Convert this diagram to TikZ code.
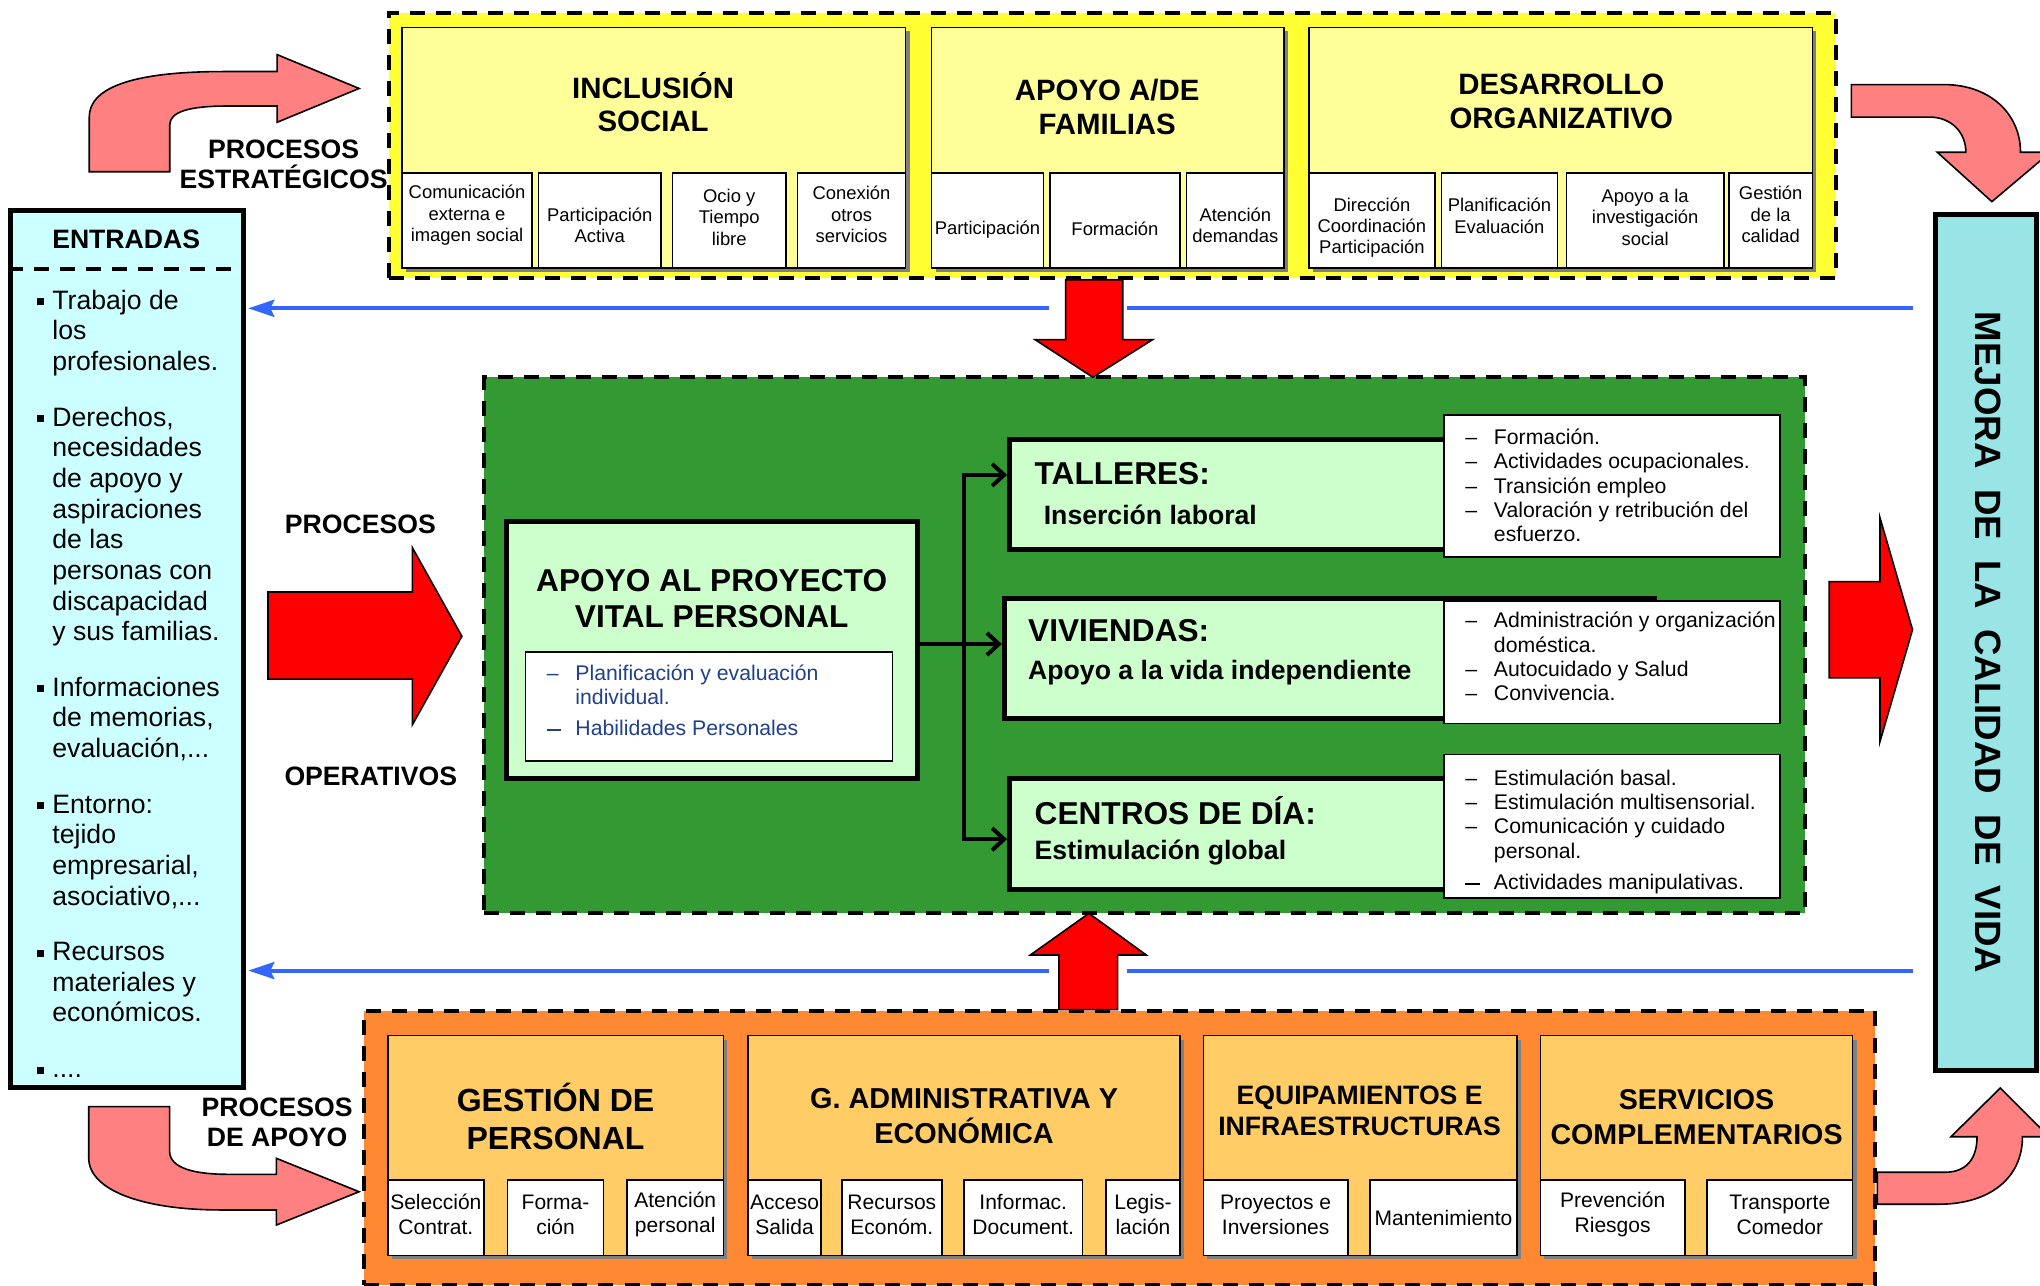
\documentclass[tikz,border=0pt]{standalone}
\usepackage{fontspec}
\setmainfont{Liberation Sans}
\usetikzlibrary{fit,shadows,arrows.meta}

\newcommand{\fTop}{\fontsize{14.7}{16.8}\selectfont\bfseries}
\newcommand{\fSub}{\fontsize{9.2}{10.7}\selectfont}
\newcommand{\fBot}{\fontsize{10.5}{12.4}\selectfont}
\newcommand{\fLab}{\fontsize{13.3}{15}\selectfont\bfseries}
\newcommand{\fIn}{\fontsize{13.3}{15.3}\selectfont}
\newcommand{\fList}{\fontsize{10.6}{12.2}\selectfont}
\newcommand{\fHead}{\fontsize{15.8}{18.2}\selectfont\bfseries}
\newcommand{\fMid}{\fontsize{13.3}{15}\selectfont\bfseries}
\newcommand{\bul}{\makebox[7.8pt][l]{\rule[2pt]{3.5pt}{3.5pt}}}
\newcommand{\dsh}{\makebox[14.3pt][l]{–}}
\newcommand{\lsh}{\makebox[14.3pt][l]{\rule[2.6pt]{7.2pt}{1pt}}}

\begin{document}
\begin{tikzpicture}[x=0.65pt,y=0.65pt,yscale=-1,xscale=1,
    every node/.style={inner sep=0pt},
    dashframe/.style={draw, line width=2pt, dash pattern=on 7.5pt off 5.5pt},
    groupbox/.style={draw, line width=0.8pt, general shadow={fill={rgb, 255:red, 128; green, 128; blue, 128}, shadow xshift=2pt, shadow yshift=-2pt}},
    stratgroup/.style={groupbox, fill={rgb, 255:red, 255; green, 255; blue, 153}},
    suppgroup/.style={groupbox, fill={rgb, 255:red, 255; green, 204; blue, 102}},
    leaf/.style={draw, line width=0.8pt, fill=white},
    subtext/.style={font=\fSub, align=center},
    bottext/.style={font=\fBot, align=center},
    opbox/.style={draw, line width=2.5pt, fill={rgb, 255:red, 204; green, 255; blue, 204}},
    blockarrow/.style={draw, line width=0.8pt, fill={rgb, 255:red, 255; green, 0; blue, 0}},
    bendarrow/.style={draw, line width=0.8pt, fill={rgb, 255:red, 255; green, 128; blue, 128}},
    feedback/.style={draw={rgb, 255:red, 51; green, 102; blue, 255}, line width=2pt, >={Stealth[length=13pt,width=8.5pt,inset=2pt]}},
    branch/.style={line width=2pt, >={Straight Barb[length=6pt,width=11pt]}},
  ]
  %set diagram size: 1568 x 988
  \useasboundingbox (0,0) rectangle (1568,988);

  %Shape: Curved arrows
  \draw[bendarrow] (68.6,132) -- (68.6,90) .. controls (68.6,68) and (100,55) .. (172,55) -- (213,55) -- (213,42) -- (276,68) -- (213,94) -- (213,81.5) -- (175,81.5) .. controls (145,81.5) and (130.5,86) .. (130.5,96) -- (130.5,132) -- cycle;
  \draw[bendarrow] (1423,65) -- (1494,65) .. controls (1530,65) and (1553,88) .. (1553,117) -- (1576,117) -- (1531,155) -- (1489,117) -- (1511,117) .. controls (1511,102) and (1500,90) .. (1483,90) -- (1423,90) -- cycle;
  \draw[bendarrow] (68.2,850.6) -- (68.2,890) .. controls (68.2,915) and (110,930) .. (170,930) -- (212.4,930) -- (212.4,941.6) -- (276,916) -- (212.4,890.3) -- (212.4,902.6) -- (175,902.6) .. controls (150,902.6) and (130.4,898) .. (130.4,885) -- (130.4,850.6) -- cycle;
  \draw[bendarrow] (1443,901) -- (1495,901) .. controls (1512,901) and (1519.6,890) .. (1519.6,873.7) -- (1499.6,873.7) -- (1537.4,836.3) -- (1575,873.7) -- (1554.5,873.7) .. controls (1554.5,905) and (1530,925.6) .. (1490,925.6) -- (1443,925.6) -- cycle;

  %Shape: Process containers
  \node[dashframe, fill={rgb, 255:red, 255; green, 255; blue, 51}, fit={(299,10) (1411,214)}] (strat) {};
  \node[dashframe, fill={rgb, 255:red, 51; green, 153; blue, 51}, fit={(372,290) (1387,702)}] (oper) {};
  \node[dashframe, fill={rgb, 255:red, 255; green, 136; blue, 51}, fit={(280,777) (1441,988)}] (supp) {};

  %Shape: Strategic groups
  \node[stratgroup, fit={(309,21) (696,206)}] (incl) {};
  \node[stratgroup, fit={(716,21) (987,206)}] (fam) {};
  \node[stratgroup, fit={(1006,21) (1393,206)}] (org) {};
  \node[font=\fTop, align=center] (inclT) at (502,78.5) {INCLUSIÓN\\SOCIAL};
  \node[font=\fTop, align=center] (famT) at (851,82) {APOYO A/DE\\FAMILIAS};
  \node[font=\fTop, align=center] (orgT) at (1200,78) {DESARROLLO\\ORGANIZATIVO};
  \node[leaf, fit={(309,133) (409,206)}] (inclA) {};
  \node[leaf, fit={(414,133) (508,206)}] (inclB) {};
  \node[leaf, fit={(517,133) (604,206)}] (inclC) {};
  \node[leaf, fit={(613,133) (696,206)}] (inclD) {};
  \node[leaf, fit={(716,133) (802,206)}] (famA) {};
  \node[leaf, fit={(807,133) (907,206)}] (famB) {};
  \node[leaf, fit={(912,133) (987,206)}] (famC) {};
  \node[leaf, fit={(1006,133) (1103,206)}] (orgA) {};
  \node[leaf, fit={(1108,133) (1197,206)}] (orgB) {};
  \node[leaf, fit={(1204,133) (1325,206)}] (orgC) {};
  \node[leaf, fit={(1329,133) (1393,206)}] (orgD) {};
  \node[subtext] (inclAt) at (359,165.5) {Comunicación\\externa e\\imagen social};
  \node[subtext] (inclBt) at (461,173) {Participación\\Activa};
  \node[subtext] (inclCt) at (560.5,167) {Ocio y\\Tiempo\\libre};
  \node[subtext] (inclDt) at (654.5,165) {Conexión\\otros\\servicios};
  \node[subtext] (famAt) at (759,176.5) {Participación};
  \node[subtext] (famBt) at (857,176) {Formación};
  \node[subtext] (famCt) at (949.5,173) {Atención\\demandas};
  \node[subtext] (orgAt) at (1054.5,175) {Dirección\\Coordinación\\Participación};
  \node[subtext] (orgBt) at (1152.5,166) {Planificación\\Evaluación};
  \node[subtext] (orgCt) at (1264.5,167) {Apoyo a la\\investigación\\social};
  \node[subtext] (orgDt) at (1361,165) {Gestión\\de la\\calidad};

  %Shape: Support groups
  \node[suppgroup, fit={(298,796) (556,965)}] (pers) {};
  \node[suppgroup, fit={(575,796) (907,965)}] (adm) {};
  \node[suppgroup, fit={(925,796) (1166,965)}] (equ) {};
  \node[suppgroup, fit={(1184,796) (1424,965)}] (serv) {};
  \node[font=\fontsize{16}{18.9}\selectfont\bfseries, align=center] (persT) at (427,858) {GESTIÓN DE\\PERSONAL};
  \node[font=\fontsize{14.4}{17.5}\selectfont\bfseries, align=center] (admT) at (741,858) {G. ADMINISTRATIVA Y\\ECONÓMICA};
  \node[font=\fontsize{13.3}{15.6}\selectfont\bfseries, align=center] (equT) at (1045,854) {EQUIPAMIENTOS E\\INFRAESTRUCTURAS};
  \node[font=\fontsize{14.3}{17.5}\selectfont\bfseries, align=center] (servT) at (1304,859) {SERVICIOS\\COMPLEMENTARIOS};
  \node[leaf, fit={(298,907) (372,965)}] (persA) {};
  \node[leaf, fit={(390,907) (464,965)}] (persB) {};
  \node[leaf, fit={(482,907) (556,965)}] (persC) {};
  \node[leaf, fit={(575,907) (631,965)}] (admA) {};
  \node[leaf, fit={(647,907) (724,965)}] (admB) {};
  \node[leaf, fit={(741,907) (832,965)}] (admC) {};
  \node[leaf, fit={(850,907) (907,965)}] (admD) {};
  \node[leaf, fit={(925,907) (1036,965)}] (equA) {};
  \node[leaf, fit={(1053,907) (1166,965)}] (equB) {};
  \node[leaf, fit={(1184,907) (1295,965)}] (servA) {};
  \node[leaf, fit={(1312,907) (1424,965)}] (servB) {};
  \node[bottext] (persAt) at (335,933.5) {Selección\\Contrat.};
  \node[bottext] (persBt) at (427,933.5) {Forma-\\ción};
  \node[bottext] (persCt) at (519,933.5) {Atención\\personal};
  \node[bottext] (admAt) at (603,933.5) {Acceso\\Salida};
  \node[bottext] (admBt) at (685.5,933.5) {Recursos\\Económ.};
  \node[bottext] (admCt) at (786.5,933.5) {Informac.\\Document.};
  \node[bottext] (admDt) at (878.5,933.5) {Legis-\\lación};
  \node[bottext] (equAt) at (980.5,933.5) {Proyectos e\\Inversiones};
  \node[bottext] (equBt) at (1109.5,936.5) {Mantenimiento};
  \node[bottext] (servAt) at (1239.5,933.5) {Prevención\\Riesgos};
  \node[bottext] (servBt) at (1368,933.5) {Transporte\\Comedor};

  %Shape: Operative boxes
  \node[opbox, fit={(389,401) (705,598)}] (apoyo) {};
  \node[font=\fHead, align=center] (apoyoT) at (547,460) {APOYO AL PROYECTO\\VITAL PERSONAL};
  \node[leaf, fit={(404,501) (686,585)}] (apoyoN) {};
  \node[anchor=north west, font=\fList, text={rgb, 255:red, 31; green, 64; blue, 140}] (apoyoL) at (420,509.5) {\begin{tabular}{@{}l@{}l@{}}\dsh & Planificación y evaluación\\ & individual.\\[3.3pt] \lsh & Habilidades Personales\end{tabular}};

  \node[opbox, fit={(776,338) (1115,422)}] (talleres) {};
  \node[opbox, fit={(772,460) (1272,552)}] (viviendas) {};
  \node[opbox, fit={(776,598) (1115,684)}] (centros) {};
  \node[anchor=west, font=\fHead] (tallT) at (795,364) {TALLERES:};
  \node[anchor=west, font=\fMid] (tallS) at (802,396) {Inserción laboral};
  \node[anchor=west, font=\fHead] (vivT) at (790,485) {VIVIENDAS:};
  \node[anchor=west, font=\fMid] (vivS) at (790,517) {Apoyo a la vida independiente};
  \node[anchor=west, font=\fHead] (centT) at (795,623) {CENTROS DE DÍA:};
  \node[anchor=west, font=\fMid] (centS) at (795,655) {Estimulación global};

  %Shape: Notes
  \node[leaf, fit={(1110,319) (1368,428)}] (tallN) {};
  \node[leaf, fit={(1110,462) (1368,556)}] (vivN) {};
  \node[leaf, fit={(1110,580) (1368,690)}] (centN) {};
  \node[anchor=north west, font=\fList] (tallL) at (1126,328) {\begin{tabular}{@{}l@{}l@{}}\dsh & Formación.\\ \dsh & Actividades ocupacionales.\\ \dsh & Transición empleo\\ \dsh & Valoración y retribución del\\ & esfuerzo.\end{tabular}};
  \node[anchor=north west, font=\fList] (vivL) at (1126,469) {\begin{tabular}{@{}l@{}l@{}}\dsh & Administración y organización\\ & doméstica.\\ \dsh & Autocuidado y Salud\\ \dsh & Convivencia.\end{tabular}};
  \node[anchor=north west, font=\fList] (centL) at (1126,590) {\begin{tabular}{@{}l@{}l@{}}\dsh & Estimulación basal.\\ \dsh & Estimulación multisensorial.\\ \dsh & Comunicación y cuidado\\ & personal.\\[3.5pt] \lsh & Actividades manipulativas.\end{tabular}};

  % Branches
  \coordinate (split) at (741,495);
  \coordinate (tIn) at ([yshift=-9.75pt]talleres.west);
  \coordinate (vIn) at ([yshift=-7.15pt]viviendas.west);
  \coordinate (cIn) at ([yshift=2.6pt]centros.west);
  \draw[branch, <->] (tIn) -- (tIn -| split) -- (cIn -| split) -- (cIn);
  \draw[branch, ->] (apoyo.east |- vIn) -- (vIn);

  %Shape: Inputs
  \node[draw, line width=2.5pt, fill={rgb, 255:red, 204; green, 255; blue, 255}, fit={(8,162) (187,836)}] (entradas) {};
  \node[font=\fLab] (entradasT) at (97,184) {ENTRADAS};
  \draw[dashframe] (entradas.west |- 0,207) -- (entradas.east |- 0,207);
  \node[anchor=north west, font=\fIn] (entradasL) at (28,221) {\begin{tabular}{@{}l@{}l@{}}
    \bul & Trabajo de\\ & los\\ & profesionales.\\[12.5pt]
    \bul & Derechos,\\ & necesidades\\ & de apoyo y\\ & aspiraciones\\ & de las\\ & personas con\\ & discapacidad\\ & y sus familias.\\[12.5pt]
    \bul & Informaciones\\ & de memorias,\\ & evaluación,...\\[12.5pt]
    \bul & Entorno:\\ & tejido\\ & empresarial,\\ & asociativo,...\\[12.5pt]
    \bul & Recursos\\ & materiales y\\ & económicos.\\[12.5pt]
    \bul & ....
  \end{tabular}};

  %Shape: Output
  \node[draw, line width=2.5pt, fill={rgb, 255:red, 153; green, 229; blue, 229}, fit={(1488,165) (1565,823)}] (mejora) {};
  \node[rotate=-90, font=\fontsize{18.3}{20}\selectfont\bfseries] (mejoraT) at (1528,494) {MEJORA~~DE~~LA~~CALIDAD~~DE~~VIDA};

  % Feedback lines
  \coordinate (fbTop) at (1470,237);
  \coordinate (gapTopR) at (866,237);
  \coordinate (gapTopL) at (806,237);
  \coordinate (fbBot) at (1470,746);
  \coordinate (gapBotR) at (866,746);
  \coordinate (gapBotL) at (806,746);
  \draw[feedback] (fbTop) -- (gapTopR);
  \draw[feedback, ->, shorten >=1.25pt] (gapTopL) -- (entradas.east |- gapTopL);
  \draw[feedback] (fbBot) -- (gapBotR);
  \draw[feedback, ->, shorten >=1.25pt] (gapBotL) -- (entradas.east |- gapBotL);

  %Shape: Block arrows
  \draw[blockarrow] (819,215) -- (863,215) -- (863,261) -- (886,261) -- (840,290) -- (795.5,261) -- (819,261) -- cycle;
  \draw[blockarrow] (814,776) -- (814,734) -- (792,734) -- (837,702) -- (881,734) -- (859,734) -- (859,776) -- cycle;
  \draw[blockarrow] (206,455) -- (317,455) -- (317,421) -- (355,489) -- (317,557) -- (317,522) -- (206,522) -- cycle;
  \draw[blockarrow] (1406,447) -- (1445,447) -- (1445,398) -- (1470,484) -- (1445,570) -- (1445,521) -- (1406,521) -- cycle;

  % Text Node
  \node[font=\fLab, align=center] (estrT) at (218,126) {PROCESOS\\ESTRATÉGICOS};
  \node[font=\fLab, align=center] (apoyoProcT) at (213,863) {PROCESOS\\DE APOYO};
  \node[font=\fLab] (procT) at (277,403) {PROCESOS};
  \node[font=\fLab] (operT) at (285,597) {OPERATIVOS};
\end{tikzpicture}
\end{document}
